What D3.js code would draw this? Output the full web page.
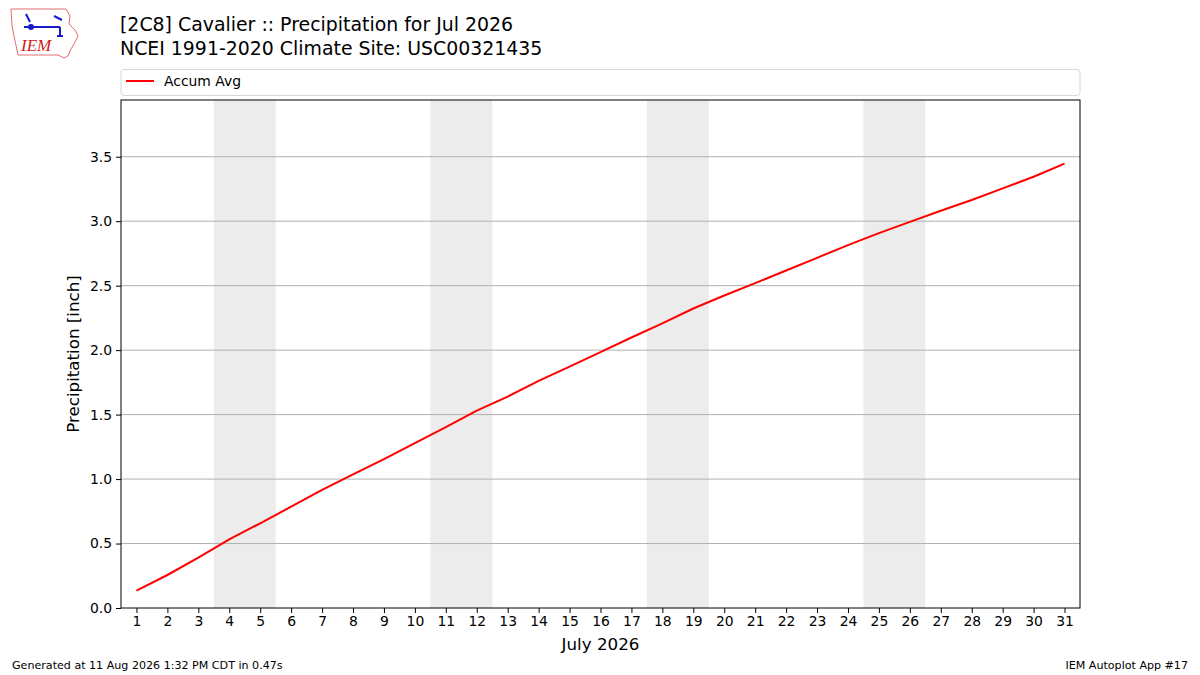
<!DOCTYPE html>
<html>
<head>
<meta charset="utf-8">
<script src="https://cdn.jsdelivr.net/npm/d3@7"></script>
<style>
  body { margin: 0; background: #fff; }
  text { font-family: "DejaVu Sans", sans-serif; }
</style>
</head>
<body>
<div class="chart"></div>
<script>
// data
const days = d3.range(1, 32)
const accumAvg = [0.134, 0.256, 0.39, 0.533, 0.657, 0.786, 0.916, 1.037, 1.154, 1.279,
    1.402, 1.531, 1.64, 1.762, 1.872, 1.984, 2.098, 2.207, 2.323, 2.424,
    2.52, 2.618, 2.716, 2.815, 2.908, 2.995, 3.081, 3.164, 3.255, 3.345, 3.446]
const weekends = [[3.5, 5.5], [10.5, 12.5], [17.5, 19.5], [24.5, 26.5]]
const yTicks = [0, 0.5, 1, 1.5, 2, 2.5, 3, 3.5]
const titleLines = ["[2C8] Cavalier :: Precipitation for Jul 2026", "NCEI 1991-2020 Climate Site: USC00321435"]

const chart_param = {
    width: 1200,
    height: 675,
    margin: { top: 100, right: 120, bottom: 67, left: 121 }
}

const x = d3.scaleLinear()
            .domain([0.5, 31.5])
            .range([chart_param.margin.left, chart_param.width - chart_param.margin.right])
const y = d3.scaleLinear()
            .domain([0, 3.94])
            .range([chart_param.height - chart_param.margin.bottom, chart_param.margin.top])

const svg = d3.select(".chart").append("svg")
    .attr("width", chart_param.width).attr("height", chart_param.height)

// weekend shading
svg.selectAll(".wk").data(weekends).enter()
    .append("rect")
    .attr("x", d => x(d[0]))
    .attr("width", d => x(d[1]) - x(d[0]))
    .attr("y", y.range()[1])
    .attr("height", y.range()[0] - y.range()[1])
    .attr("fill", "#ececec")

// horizontal grid
svg.selectAll(".grid").data(yTicks.slice(1)).enter()
    .append("line")
    .attr("x1", x.range()[0]).attr("x2", x.range()[1])
    .attr("y1", d => y(d)).attr("y2", d => y(d))
    .attr("stroke", "#b0b0b0").attr("stroke-width", 1)

// the line
const line = d3.line().x((d, i) => x(days[i])).y(d => y(d))
svg.append("path")
    .datum(accumAvg)
    .attr("d", line)
    .attr("fill", "none")
    .attr("stroke", "red")
    .attr("stroke-width", 2)

// frame
svg.append("rect")
    .attr("x", x.range()[0]).attr("y", y.range()[1])
    .attr("width", x.range()[1] - x.range()[0])
    .attr("height", y.range()[0] - y.range()[1])
    .attr("fill", "none").attr("stroke", "black").attr("stroke-width", 1)

// axes
const xAxis = svg.append("g")
    .attr("transform", `translate(0,${y.range()[0]})`)
    .call(d3.axisBottom(x).tickValues(days).tickSize(5).tickPadding(3))
const yAxis = svg.append("g")
    .attr("transform", `translate(${x.range()[0]},0)`)
    .call(d3.axisLeft(y).tickValues(yTicks).tickFormat(d3.format(".1f")).tickSize(5).tickPadding(4))
;[xAxis, yAxis].forEach(g => {
    g.select(".domain").remove()
    g.selectAll("text").style("font-family", "DejaVu Sans").style("font-size", "13.9px").attr("fill", "black")
    g.selectAll("line").attr("stroke", "black")
})

svg.append("text")
    .attr("x", (x.range()[0] + x.range()[1]) / 2).attr("y", 650)
    .attr("text-anchor", "middle").style("font-size", "16.7px")
    .text("July 2026")
svg.append("text")
    .attr("transform", `translate(79,${(y.range()[0] + y.range()[1]) / 2}) rotate(-90)`)
    .attr("text-anchor", "middle").style("font-size", "16.7px")
    .text("Precipitation [inch]")

// titles
svg.selectAll(".title").data(titleLines).enter()
    .append("text")
    .attr("x", 120).attr("y", (d, i) => 31 + i * 24)
    .style("font-size", "18.9px")
    .text(d => d)

// legend
svg.append("rect")
    .attr("x", 121).attr("y", 69.5).attr("width", 959).attr("height", 26)
    .attr("rx", 3).attr("fill", "white").attr("stroke", "#d6d6d6")
svg.append("line")
    .attr("x1", 126).attr("x2", 154).attr("y1", 81).attr("y2", 81)
    .attr("stroke", "red").attr("stroke-width", 2)
svg.append("text")
    .attr("x", 164).attr("y", 86).style("font-size", "13.9px")
    .text("Accum Avg")

// footer
svg.append("text").attr("x", 12).attr("y", 669).style("font-size", "11.1px")
    .text("Generated at 11 Aug 2026 1:32 PM CDT in 0.47s")
svg.append("text").attr("x", 1188).attr("y", 669).attr("text-anchor", "end").style("font-size", "11.1px")
    .text("IEM Autoplot App #17")

// IEM logo (rough)
const logo = svg.append("g").attr("transform", "translate(8,6)")
logo.append("path")
    .attr("d", "M3,3 L58,3 L62,10 L61,18 L67,24 L70,30 L66,38 L63,43 L60,50 L56,52 L50,49 L10,49 L9,44 L6,30 L4,20 Z")
    .attr("fill", "none").attr("stroke", "#e07070").attr("stroke-width", 1)
logo.append("path")
    .attr("d", "M16,21 L52,21 M22,16 L18,8 M46,10 L54,14 M52,21 L52,30 M49,30 L55,30")
    .attr("fill", "none").attr("stroke", "#1a1acc").attr("stroke-width", 2)
logo.append("circle").attr("cx", 23).attr("cy", 21).attr("r", 3).attr("fill", "#1a1acc")
logo.append("text").attr("x", 13).attr("y", 45)
    .style("font-family", "Liberation Serif").style("font-style", "italic").style("font-size", "17px")
    .attr("fill", "#d02020").text("IEM")
</script>
</body>
</html>
